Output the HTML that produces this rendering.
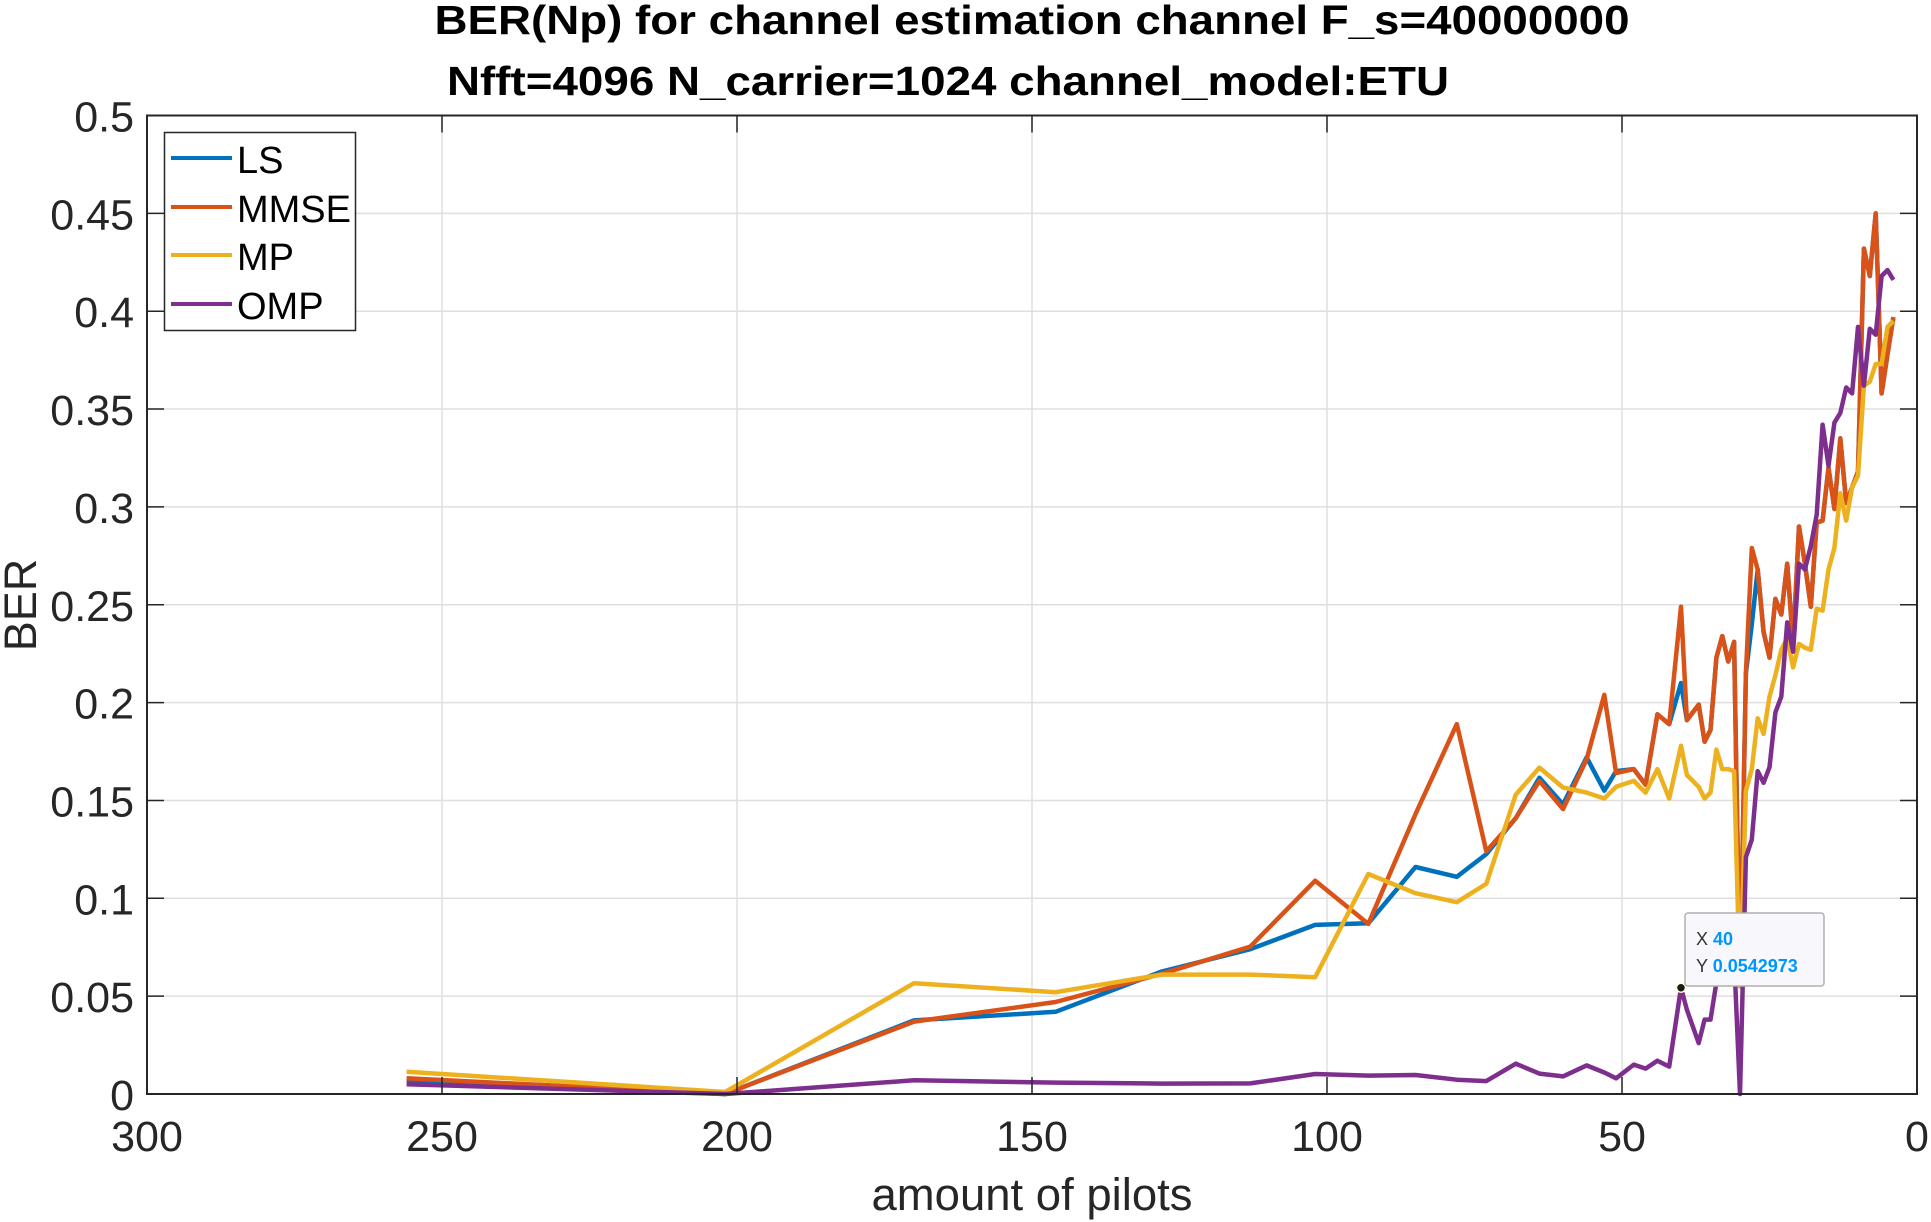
<!DOCTYPE html>
<html><head><meta charset="utf-8"><style>
html,body{margin:0;padding:0;background:#fff;}
svg{display:block;font-family:"Liberation Sans",Arial,sans-serif;}
</style></head><body>
<svg id="chart" width="1931" height="1222" viewBox="0 0 1931 1222" xmlns="http://www.w3.org/2000/svg">
<rect width="1931" height="1222" fill="#fff"/>
<g id="grid"></g>
<g id="series"></g>
<g id="axes"></g>
<text x="1032" y="34" text-anchor="middle" font-size="41" font-weight="bold" fill="#000" textLength="1195" lengthAdjust="spacingAndGlyphs">BER(Np) for channel estimation channel F_s=40000000</text>
<text x="948" y="95" text-anchor="middle" font-size="41" font-weight="bold" fill="#000" textLength="1002" lengthAdjust="spacingAndGlyphs">Nfft=4096 N_carrier=1024 channel_model:ETU</text>
<text x="1032" y="1210" text-anchor="middle" font-size="45" fill="#262626" textLength="321" lengthAdjust="spacingAndGlyphs">amount of pilots</text>
<text transform="translate(36,605) rotate(-90)" text-anchor="middle" font-size="45" fill="#262626">BER</text>
<g>
<rect x="164.5" y="132.5" width="191" height="198" fill="#fff" stroke="#262626" stroke-width="1.5"/>
<line x1="171" y1="158" x2="232" y2="158" stroke="#0072BD" stroke-width="4"/>
<text x="237" y="173" font-size="38" fill="#000">LS</text>
<line x1="171" y1="207" x2="232" y2="207" stroke="#D95319" stroke-width="4"/>
<text x="237" y="222" font-size="38" fill="#000">MMSE</text>
<line x1="171" y1="255" x2="232" y2="255" stroke="#EDB120" stroke-width="4"/>
<text x="237" y="270" font-size="38" fill="#000">MP</text>
<line x1="171" y1="304" x2="232" y2="304" stroke="#7E2F8E" stroke-width="4"/>
<text x="237" y="319" font-size="38" fill="#000">OMP</text>
</g>
<g id="tip"></g>
</svg>
<script>
const pilots=[256,202,170,146,128,113,102,93,85,78,73,68,64,60,56,53,51,48,46,44,42,40,39,37,36,35,34,33,32,31,30,29,28,27,26,25,24,23,22,21,20,19,18,17,16,15,14,13,12,11,10,9,8,7,6,5,4];
const lsVals=[.007,0,.0376,.042,.0626,.074,.0864,.0872,.116,.111,.1226,.141,.1616,.148,.172,.155,.165,.166,.158,.194,.189,.21,.191,.199,.18,.186,.223,.234,.221,.231,.055,.215,.24,.268,.236,.223,.253,.245,.271,.23,.29,.271,.249,.292,.293,.32,.299,.335,.302,.31,.318,.432,.418,.45,.358,.378,.397];
const mmseVals=[.008,0,.037,.047,.0614,.0753,.109,.0869,.143,.189,.124,.141,.160,.1456,.171,.204,.164,.166,.158,.194,.189,.249,.191,.199,.18,.186,.223,.234,.221,.231,.055,.215,.279,.268,.236,.223,.253,.245,.271,.23,.29,.271,.249,.292,.293,.32,.299,.335,.302,.31,.318,.432,.418,.45,.358,.378,.397];
const mpVals=[.0114,.001,.0566,.052,.061,.061,.0597,.1124,.1026,.098,.1074,.153,.1668,.1566,.154,.151,.157,.160,.154,.166,.151,.178,.163,.157,.151,.154,.176,.166,.166,.165,.055,.155,.166,.192,.184,.203,.214,.227,.233,.218,.23,.228,.227,.248,.247,.268,.279,.307,.293,.31,.316,.362,.364,.373,.373,.392,.395];
const ompVals=[.005,0,.007,.0058,.0053,.0054,.0102,.0094,.0097,.0073,.0066,.0155,.0104,.009,.0146,.011,.008,.015,.013,.017,.014,.0543,.043,.026,.038,.038,.057,.07,.075,.07,0,.121,.13,.165,.159,.167,.195,.203,.241,.226,.271,.268,.28,.296,.342,.321,.343,.348,.361,.358,.392,.362,.391,.388,.418,.421,.416];
const xTicks=[300,250,200,150,100,50,0];
const yTicks=[0,0.05,0.1,0.15,0.2,0.25,0.3,0.35,0.4,0.45,0.5];
const yTickLabels=["0","0.05","0.1","0.15","0.2","0.25","0.3","0.35","0.4","0.45","0.5"];
const tipX=40, tipY=0.0542973;

const L=147,R=1917,T=115.5,B=1094;
function xs(v){return L+(300-v)/300*(R-L);}
function ys(v){return B-v/0.5*(B-T);}
const NS="http://www.w3.org/2000/svg";
function mk(tag,attrs,parent){const e=document.createElementNS(NS,tag);for(const k in attrs)e.setAttribute(k,attrs[k]);parent.appendChild(e);return e;}
const grid=document.getElementById('grid'),axes=document.getElementById('axes'),ser=document.getElementById('series'),tip=document.getElementById('tip');
xTicks.forEach(t=>{
  const g=mk('line',{x1:xs(t),x2:xs(t),y1:T,y2:B,stroke:'#dfdfdf','stroke-width':1.5},grid);
  
  
  const tk=mk('line',{x1:xs(t),x2:xs(t),y1:B,y2:B-17,stroke:'#262626','stroke-width':1.5},axes);
  
  
  const tk2=mk('line',{x1:xs(t),x2:xs(t),y1:T,y2:T+17,stroke:'#262626','stroke-width':1.5},axes);
  
  
  const lb=mk('text',{x:xs(t),y:1151,'text-anchor':'middle','font-size':43,fill:'#262626'},axes);
  lb.textContent=String(t);
  
  
});
yTicks.forEach((t,i)=>{
  const g=mk('line',{x1:L,x2:R,y1:ys(t),y2:ys(t),stroke:'#dfdfdf','stroke-width':1.5},grid);
  
  
  const tk=mk('line',{x1:L,x2:L+17,y1:ys(t),y2:ys(t),stroke:'#262626','stroke-width':1.5},axes);
  
  
  const tk2=mk('line',{x1:R,x2:R-17,y1:ys(t),y2:ys(t),stroke:'#262626','stroke-width':1.5},axes);
  
  
  const lb=mk('text',{x:134,y:ys(t)+16,'text-anchor':'end','font-size':43,fill:'#262626'},axes);
  lb.textContent=yTickLabels[i];
  
  
});
const box=mk('rect',{x:L,y:T,width:R-L,height:B-T,fill:'none',stroke:'#262626','stroke-width':2},axes);


function line(vals,color,name){
  const pts=pilots.map((p,i)=>xs(p).toFixed(1)+','+ys(vals[i]).toFixed(1)).join(' ');
  const pl=mk('polyline',{points:pts,fill:'none',stroke:color,'stroke-width':4.5,'stroke-linejoin':'round'},ser);
  
  
}
line(lsVals,'#0072BD','series-ls');
line(mmseVals,'#D95319','series-mmse');
line(mpVals,'#EDB120','series-mp');
line(ompVals,'#7E2F8E','series-omp');
const dot=mk('circle',{cx:xs(tipX),cy:ys(tipY),r:4.5,fill:'#1a1a1a',stroke:'#ffffcc','stroke-width':1.5},tip);


const tb=mk('rect',{x:1685,y:913,width:139,height:73,rx:3,fill:'#f8f8fc',stroke:'#b0b0b0','stroke-width':1.5},tip);


const t1=mk('text',{x:1696,y:945,'font-size':18,fill:'#333'},tip);
t1.innerHTML='X <tspan fill="#0096FF" font-weight="bold">'+tipX+'</tspan>';


const t2=mk('text',{x:1696,y:972,'font-size':18,fill:'#333'},tip);
t2.innerHTML='Y <tspan fill="#0096FF" font-weight="bold">'+tipY+'</tspan>';


</script>
</body></html>
